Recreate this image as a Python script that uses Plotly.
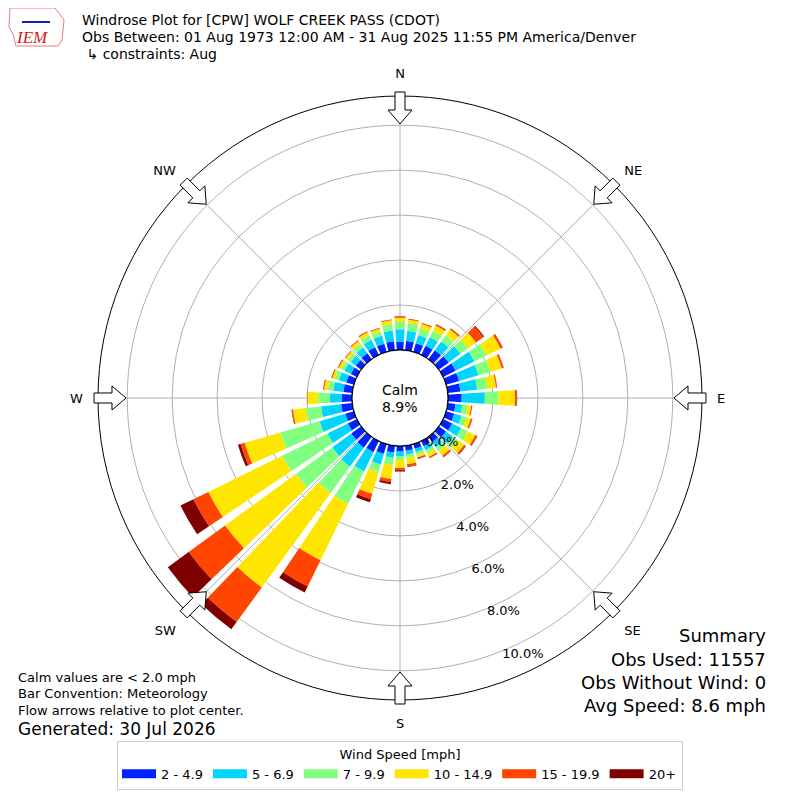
import numpy as np
import plotly.graph_objects as go

# direction bins (deg, meteorological) and cumulative % per speed bin
directions = list(range(0, 360, 10))
cum_2_5 = [0.37, 0.42, 0.40, 0.45, 0.50, 0.55, 0.62, 0.60, 0.57, 0.61, 0.35, 0.38, 0.45, 0.40, 0.30, 0.25, 0.22, 0.22,
           0.25, 0.30, 0.45, 0.55, 0.60, 0.55, 0.45, 0.40, 0.50, 0.46, 0.40, 0.35, 0.30, 0.30, 0.33, 0.38, 0.38, 0.40]
cum_5_7 = [0.92, 0.87, 0.78, 0.88, 0.98, 1.20, 1.55, 1.50, 1.32, 1.64, 0.65, 0.72, 0.90, 0.80, 0.58, 0.45, 0.38, 0.40,
           0.45, 0.55, 0.95, 1.50, 1.65, 1.60, 1.46, 1.59, 1.40, 0.98, 0.85, 0.70, 0.62, 0.58, 0.65, 0.75, 0.75, 0.88]
cum_7_10 = [1.26, 1.22, 1.08, 1.20, 1.32, 1.60, 2.15, 2.05, 1.77, 2.24, 0.88, 0.95, 1.22, 1.05, 0.78, 0.60, 0.50, 0.55,
            0.62, 0.85, 1.30, 3.10, 3.10, 3.60, 3.70, 3.40, 2.08, 1.50, 1.10, 0.88, 0.78, 0.74, 0.85, 0.98, 0.96, 1.18]
cum_10_15 = [1.44, 1.37, 1.30, 1.46, 1.63, 2.05, 2.85, 2.58, 2.16, 2.98, 1.05, 1.15, 1.60, 1.40, 1.05, 0.78, 0.62, 0.82,
             0.98, 1.48, 2.30, 5.90, 8.30, 7.50, 7.36, 5.06, 2.65, 1.97, 1.26, 1.00, 0.90, 0.86, 1.00, 1.12, 1.08, 1.34]
cum_15_20 = [1.48, 1.41, 1.35, 1.52, 1.70, 2.45, 2.95, 2.66, 2.20, 3.06, 1.10, 1.21, 1.68, 1.48, 1.12, 0.84, 0.68, 0.92,
             1.08, 1.62, 2.55, 7.20, 10.20, 9.50, 8.10, 5.25, 2.70, 1.99, 1.30, 1.04, 0.94, 0.89, 1.04, 1.16, 1.11, 1.37]
cum_20p = [1.50, 1.41, 1.35, 1.53, 1.71, 2.50, 2.96, 2.67, 2.21, 3.08, 1.10, 1.22, 1.70, 1.50, 1.14, 0.85, 0.70, 0.95,
           1.14, 1.72, 2.69, 7.50, 10.60, 10.65, 8.74, 5.37, 2.72, 1.99, 1.31, 1.05, 0.95, 0.90, 1.05, 1.17, 1.12, 1.38]

bin_labels = ["2 - 4.9", "5 - 6.9", "7 - 9.9", "10 - 14.9", "15 - 19.9", "20+"]
bin_colors = ["#0022ff", "#00d4ff", "#80ff80", "#ffe600", "#ff4500", "#800000"]

compass_vals = [0, 45, 90, 135, 180, 225, 270, 315]
compass_text = ["N", "NE", "E", "SE", "S", "SW", "W", "NW"]
rtick_vals = [0, 2, 4, 6, 8, 10]
rtick_text = ["0.0%", "2.0%", "4.0%", "6.0%", "8.0%", "10.0%"]

calm_pct = 8.9
obs_used = 11557
obs_nowind = 0
avg_speed = 8.6

cums = np.array([cum_2_5, cum_5_7, cum_7_10, cum_10_15, cum_15_20, cum_20p])
incs = np.diff(np.vstack([np.zeros(len(directions)), cums]), axis=0)

fig = go.Figure()
for lab, col, vals in zip(bin_labels, bin_colors, incs):
    fig.add_trace(go.Barpolar(r=vals, theta=directions, width=7.8, name=lab, legendgroup=lab,
                              showlegend=False, marker=dict(color=col, line=dict(width=0))))
# legend keys drawn as thick line swatches (wide rectangles like the original)
for lab, col in zip(bin_labels, bin_colors):
    fig.add_trace(go.Scatterpolar(r=[None], theta=[None], mode="lines", name=lab, legendgroup=lab,
                                  line=dict(color=col, width=9), hoverinfo="skip"))

# black ring around the calm hole
ring = np.arange(0, 361, 2)
fig.add_trace(go.Scatterpolar(r=np.zeros(len(ring)), theta=ring, mode="lines",
                              line=dict(color="black", width=1.3), showlegend=False, hoverinfo="skip"))

# the page has an 8px body margin, so the figure is 792px and page px are shifted by it
OFF, W = 8, 792


def px2paper(x, y):
    return (x - OFF) / W, 1 - (y - OFF) / W


# geometry of the polar area in page pixels
cx, cy, R = 400, 398, 302
hole = 48 / R

# hollow flow arrows at the compass points, pointing to the center
shapes = []
pts = [(274, 0), (288, 12), (288, 5), (306, 5), (306, -5), (288, -5), (288, -12)]
for a in compass_vals:
    t = np.radians(a)
    path = ""
    for i, (d, w) in enumerate(pts):
        xp, yp = px2paper(cx + d * np.sin(t) + w * np.cos(t), cy - d * np.cos(t) + w * np.sin(t))
        path += ("M" if i == 0 else "L") + f"{xp:.5f},{yp:.5f} "
    shapes.append(dict(type="path", path=path + "Z", xref="paper", yref="paper",
                       fillcolor="white", line=dict(color="black", width=1), layer="above"))

font = "DejaVu Sans"
ann = []


def txt(x, y, s, size=14, xa="left", color="black", fam=font):
    xp, yp = px2paper(x, y)
    ann.append(dict(x=xp, y=yp, xref="paper", yref="paper", text=s, showarrow=False,
                    xanchor=xa, yanchor="middle", font=dict(family=fam, size=size, color=color)))


txt(80, 20, "Windrose Plot for [CPW] WOLF CREEK PASS (CDOT)")
txt(80, 37, "Obs Between: 01 Aug 1973 12:00 AM - 31 Aug 2025 11:55 PM America/Denver")
txt(80, 54, " ↳ constraints: Aug")
txt(400, 390, "Calm", 14, "center")
txt(400, 407, f"{calm_pct}%", 14, "center")
txt(16, 677, "Calm values are &lt; 2.0 mph", 13)
txt(16, 693, "Bar Convention: Meteorology", 13)
txt(16, 710, "Flow arrows relative to plot center.", 13)
txt(16, 729, "Generated: 30 Jul 2026", 17)
txt(768, 635, "Summary", 18, "right")
txt(768, 659, f"Obs Used: {obs_used}", 18, "right")
txt(768, 682, f"Obs Without Wind: {obs_nowind}", 18, "right")
txt(768, 705, f"Avg Speed: {avg_speed} mph", 18, "right")
txt(32, 37, "<i>IEM</i>", 17, "center", "#d42020", "Liberation Serif")

# rough logo outline
logo = [(10, 8), (55, 8), (64, 20), (62, 40), (58, 46), (16, 46), (13, 34), (9, 27)]
lp = " ".join(("M" if i == 0 else "L") + "%.5f,%.5f" % px2paper(x, y) for i, (x, y) in enumerate(logo))
shapes.append(dict(type="path", xref="paper", yref="paper", layer="above", path=lp + " Z",
                   line=dict(color="#e08080", width=1)))
x0, y0 = px2paper(22, 22)
x1, y1 = px2paper(50, 22)
shapes.append(dict(type="line", xref="paper", yref="paper", x0=x0, x1=x1, y0=y0, y1=y1,
                   line=dict(color="#1020c0", width=2), layer="above"))

dx0, dy0 = px2paper(cx - R, cy + R)
dx1, dy1 = px2paper(cx + R, cy - R)
lx, ly = px2paper(400, 741)

fig.update_layout(
    width=W, height=W, margin=dict(l=0, r=0, t=0, b=0),
    paper_bgcolor="white", font=dict(family=font, size=13, color="black"),
    polar=dict(
        domain=dict(x=[dx0, dx1], y=[dy0, dy1]),
        hole=hole, bgcolor="white", barmode="stack",
        angularaxis=dict(rotation=90, direction="clockwise", tickvals=compass_vals, ticktext=compass_text,
                         showline=True, linecolor="black", linewidth=1, gridcolor="#b0b0b0",
                         ticks="outside", ticklen=12, tickcolor="rgba(0,0,0,0)", layer="above traces",
                         tickfont=dict(size=13)),
        radialaxis=dict(range=[0, 11.3], tickvals=rtick_vals, ticktext=rtick_text, angle=-70, tickangle=-70,
                        side="counterclockwise", showline=False, ticks="", gridcolor="#b0b0b0",
                        layer="above traces", tickfont=dict(size=13)),
    ),
    legend=dict(orientation="h", x=lx, xanchor="center", y=ly, yanchor="top",
                bordercolor="#cccccc", borderwidth=1, bgcolor="white", itemwidth=34,
                title=dict(text="Wind Speed [mph]", side="top center", font=dict(size=13)),
                font=dict(size=13)),
    shapes=shapes, annotations=ann,
)

fig.write_html("out.html")
